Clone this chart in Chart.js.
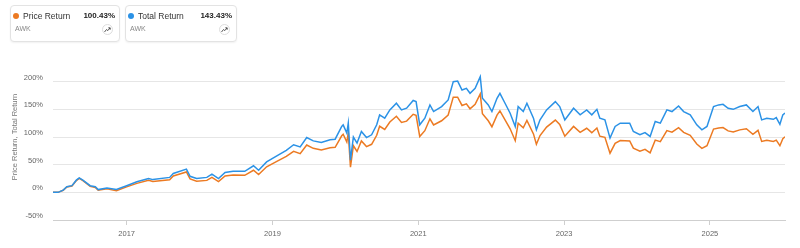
<!DOCTYPE html>
<html>
<head>
<meta charset="utf-8">
<script src="https://cdn.jsdelivr.net/npm/chart.js@4"></script>
<style>
  body { margin: 0; width: 800px; height: 248px; overflow: hidden; background: #fff; position: relative;
         font-family: "Liberation Sans", Arial, sans-serif; }
  #chart { position: absolute; left: 0; top: 0; }
  .card { position: absolute; top: 5px; height: 37px; border: 1px solid #e3e3e3; border-radius: 4px;
          box-shadow: 0 1px 2px rgba(0,0,0,.06); box-sizing: border-box; background: #fff; }
  .dot { position: absolute; left: 2px; top: 7px; width: 6px; height: 6px; border-radius: 50%; }
  .name { position: absolute; left: 12px; top: 5px; font-size: 8.5px; line-height: 10px; color: #333; }
  .val { position: absolute; right: 4px; top: 5px; font-size: 8px; line-height: 10px; font-weight: bold; color: #222; }
  .tic { position: absolute; left: 4px; top: 18px; font-size: 7px; line-height: 9px; color: #888; }
  .ico { position: absolute; right: 6px; top: 18px; width: 11px; height: 11px; border: 1px solid #ddd;
         border-radius: 50%; box-sizing: border-box; }
  .ico svg { position: absolute; left: 1px; top: 1px; }
</style>
</head>
<body>
<canvas id="chart" width="800" height="248"></canvas>

<div class="card" style="left:10px;width:110px">
  <div class="dot" style="background:#ec7a22"></div>
  <div class="name">Price Return</div>
  <div class="val">100.43%</div>
  <div class="tic">AWK</div>
  <div class="ico"><svg width="7" height="7" viewBox="0 0 7 7"><polyline points="0.5,6 2.5,3.5 3.8,4.6 6,2" fill="none" stroke="#444" stroke-width="0.9"/><polyline points="4.3,1.8 6.2,1.8 6.2,3.7" fill="none" stroke="#444" stroke-width="0.9"/></svg></div>
</div>
<div class="card" style="left:125px;width:112px">
  <div class="dot" style="background:#2b92e6"></div>
  <div class="name">Total Return</div>
  <div class="val">143.43%</div>
  <div class="tic">AWK</div>
  <div class="ico"><svg width="7" height="7" viewBox="0 0 7 7"><polyline points="0.5,6 2.5,3.5 3.8,4.6 6,2" fill="none" stroke="#444" stroke-width="0.9"/><polyline points="4.3,1.8 6.2,1.8 6.2,3.7" fill="none" stroke="#444" stroke-width="0.9"/></svg></div>
</div>

<script>
// dates as decimal years
const years = [
  2015.99, 2016.06, 2016.13, 2016.18, 2016.25, 2016.31, 2016.35, 2016.40, 2016.50, 2016.57,
  2016.61, 2016.73, 2016.86, 2017.00, 2017.14, 2017.30, 2017.36, 2017.59, 2017.64, 2017.82,
  2017.87, 2017.96, 2018.10, 2018.17, 2018.26, 2018.35, 2018.46, 2018.62, 2018.74, 2018.81,
  2018.92, 2019.06, 2019.19, 2019.29, 2019.38, 2019.47, 2019.56, 2019.67, 2019.79, 2019.86,
  2019.95, 2019.97, 2020.02, 2020.04, 2020.07, 2020.11, 2020.16, 2020.22, 2020.29, 2020.36,
  2020.43, 2020.47, 2020.54, 2020.61, 2020.70, 2020.77, 2020.84, 2020.93, 2020.97, 2021.02,
  2021.09, 2021.16, 2021.21, 2021.32, 2021.41, 2021.48, 2021.54, 2021.60, 2021.66, 2021.71,
  2021.78, 2021.85, 2021.88, 2021.96, 2022.01, 2022.08, 2022.12, 2022.19, 2022.26, 2022.33,
  2022.37, 2022.44, 2022.49, 2022.58, 2022.62, 2022.67, 2022.76, 2022.88, 2022.94, 2023.01,
  2023.13, 2023.22, 2023.31, 2023.38, 2023.45, 2023.49, 2023.56, 2023.63, 2023.70, 2023.77,
  2023.90, 2023.95, 2024.04, 2024.11, 2024.18, 2024.25, 2024.32, 2024.41, 2024.48, 2024.57,
  2024.64, 2024.73, 2024.82, 2024.89, 2024.96, 2025.05, 2025.12, 2025.18, 2025.25, 2025.32,
  2025.41, 2025.50, 2025.59, 2025.66, 2025.71, 2025.78, 2025.87, 2025.91, 2025.96, 2026.00,
  2026.03
];

const totalReturn = [
  0, 0, 4, 10, 12, 22, 26, 22, 12, 10,
  5, 8, 5, 12, 19, 25, 23, 27, 34, 42,
  29, 25, 27, 33, 25, 36, 38, 38, 48, 40,
  55, 66, 76, 86, 82, 99, 93, 90, 95, 96,
  119, 122, 107, 125, 58, 100, 89, 110, 99, 104,
  122, 140, 134, 149, 161, 149, 152, 166, 164, 122,
  134, 158, 146, 155, 167, 200, 201, 185, 188, 179,
  188, 209, 170, 158, 146, 170, 179, 161, 143, 119,
  155, 146, 161, 134, 113, 131, 149, 164, 155, 131,
  152, 140, 149, 140, 150, 134, 131, 98, 119, 125,
  125, 110, 104, 108, 101, 128, 125, 149, 146, 156,
  146, 140, 122, 113, 119, 155, 158, 159, 152, 150,
  155, 158, 146, 155, 131, 134, 132, 135, 123, 140,
  143.43
];

const priceReturn = [
  0, 0, 3.7, 9.6, 11.4, 21.2, 25.1, 21.0, 10.8, 8.7,
  3.7, 6.4, 3.1, 9.8, 16.2, 21.7, 19.5, 22.9, 29.6, 36.8,
  24.2, 20.1, 21.6, 27.2, 19.4, 29.6, 31.2, 30.8, 39.9, 32.2,
  46.1, 56.0, 64.9, 74.0, 69.9, 85.5, 79.5, 76.4, 80.6, 81.3,
  102.2, 105.0, 90.9, 107.4, 45.6, 84.2, 73.9, 92.8, 82.6, 86.8,
  103.1, 119.4, 113.7, 127.0, 137.5, 126.4, 128.7, 141.0, 139.1, 100.9,
  111.4, 132.9, 121.8, 129.3, 139.7, 172, 172, 157, 160, 151,
  159, 178, 142, 129.3, 118.5, 139.4, 147.1, 131.0, 114.9, 93.3,
  124.9, 116.7, 129.8, 105.6, 87.0, 102.6, 118.0, 130.6, 122.5, 101.4,
  119.1, 108.3, 115.8, 107.8, 116.3, 101.4, 99.3, 70.7, 88.5, 93.5,
  92.9, 79.9, 74.5, 77.8, 71.5, 94.4, 91.5, 111.6, 108.8, 116.9,
  108.3, 102.9, 87.3, 79.4, 84.3, 114.3, 116.4, 117.1, 111.1, 109.0,
  112.9, 115.0, 104.8, 112.0, 91.9, 94.0, 92.1, 94.4, 84.3, 97,
  100.43
];

const yearTicks = [2017, 2019, 2021, 2023, 2025];
const pctTicks = [-50, 0, 50, 100, 150, 200];

const FONT = '"Liberation Sans", Arial, sans-serif';

function points(vals) {
  return years.map((x, i) => ({ x: x, y: vals[i] }));
}

new Chart(document.getElementById('chart'), {
  type: 'line',
  data: {
    datasets: [
      {
        label: 'Total Return',
        data: points(totalReturn),
        borderColor: '#2b92e6',
        borderWidth: 1.5,
        pointRadius: 0,
        tension: 0,
        order: 0
      },
      {
        label: 'Price Return',
        data: points(priceReturn),
        borderColor: '#ec7a22',
        borderWidth: 1.5,
        pointRadius: 0,
        tension: 0,
        order: 1
      }
    ]
  },
  options: {
    responsive: false,
    animation: false,
    devicePixelRatio: 1,
    layout: { padding: { top: 54, right: 15, left: 0, bottom: 0 } },
    plugins: { legend: { display: false }, tooltip: { enabled: false } },
    scales: {
      x: {
        type: 'linear',
        min: years[0],
        max: years[years.length - 1],
        afterBuildTicks: s => { s.ticks = yearTicks.map(v => ({ value: v })); },
        afterFit: s => { s.height = 28; },
        ticks: {
          autoSkip: false, maxRotation: 0, padding: 4,
          color: '#666', font: { family: FONT, size: 7.5 },
          callback: v => String(v)
        },
        grid: { drawOnChartArea: false, drawTicks: true, tickLength: 5, color: '#cfcfcf' },
        border: { display: true, color: '#cfcfcf' }
      },
      y: {
        min: -50,
        max: 250,
        afterBuildTicks: s => { s.ticks = pctTicks.map(v => ({ value: v })); },
        afterFit: s => { s.width = 53; },
        ticks: {
          padding: 10, labelOffset: -4,
          color: '#666', font: { family: FONT, size: 7.5 },
          callback: v => v + '%'
        },
        grid: { color: '#e6e6e6', drawTicks: false },
        border: { display: false },
        title: {
          display: true,
          text: 'Price Return, Total Return',
          color: '#777',
          font: { family: FONT, size: 7.5 },
          padding: { top: 10, bottom: 0 }
        }
      }
    }
  }
});
</script>
</body>
</html>
